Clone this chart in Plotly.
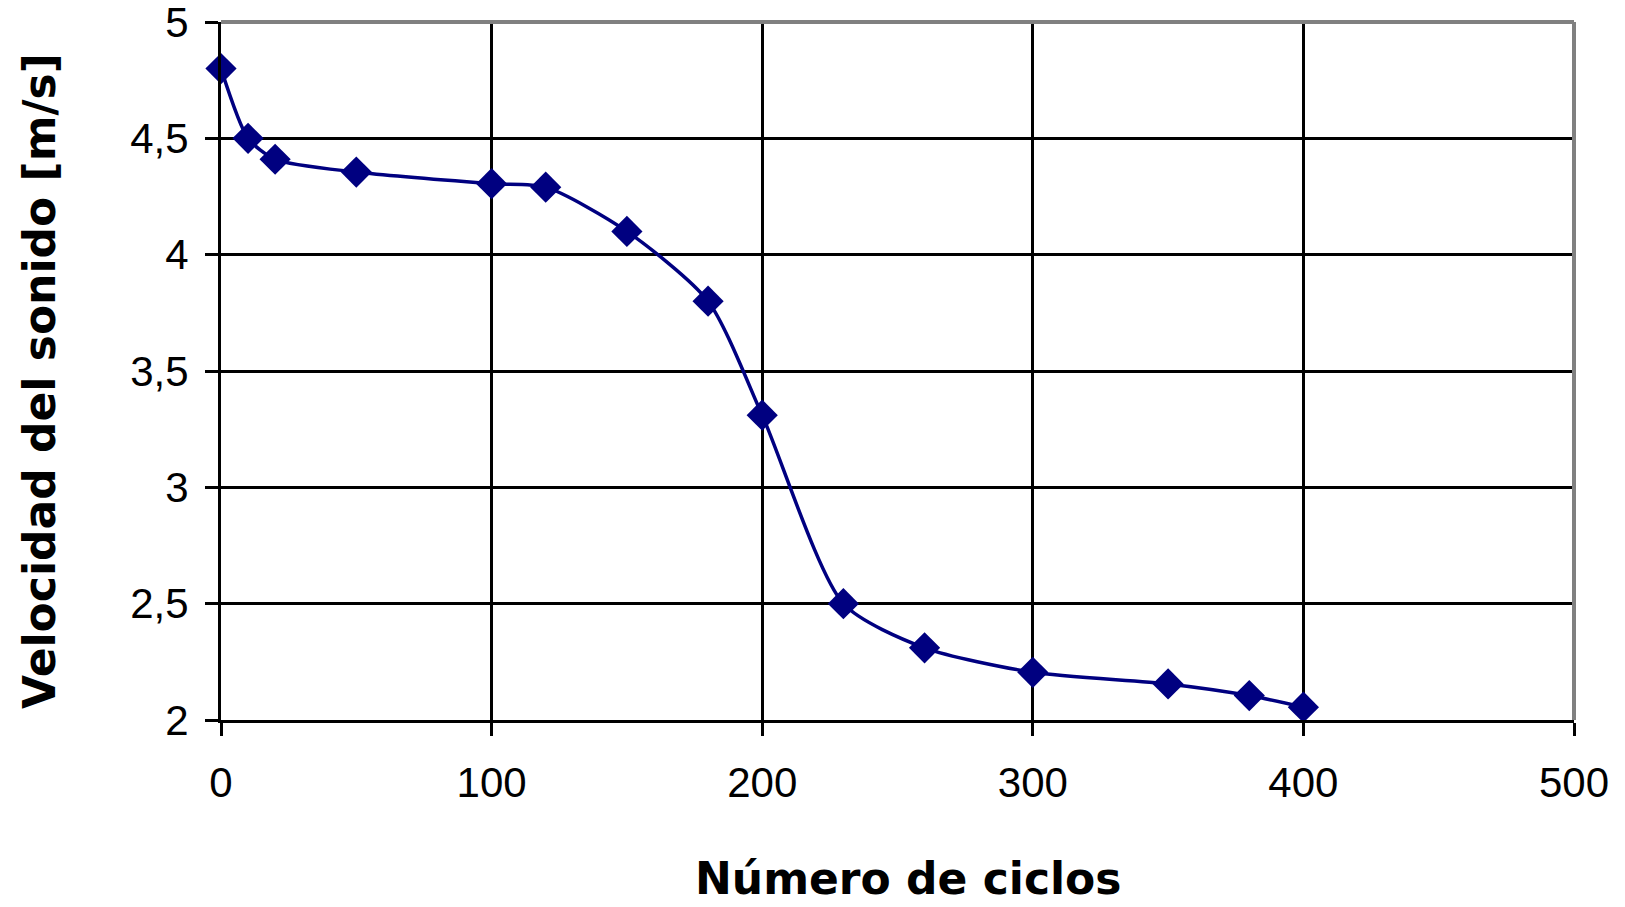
import plotly.graph_objects as go

# Data
ciclos = [0, 10, 20, 50, 100, 120, 150, 180, 200, 230, 260, 300, 350, 380, 400]
velocidad = [4.80, 4.50, 4.41, 4.355, 4.305, 4.29, 4.10, 3.80, 3.31, 2.50, 2.31, 2.205, 2.155, 2.105, 2.055]

x_ticks = [0, 100, 200, 300, 400, 500]
y_ticks = [2, 2.5, 3, 3.5, 4, 4.5, 5]

x_title = "Número de ciclos"
y_title = "Velocidad del sonido [m/s]"

W, H = 1625, 907
OFF = 8  # page body margin
L, T = 221 - OFF, 22 - OFF
pw, ph = 1353, 698
R, B = W - L - pw, H - T - ph

fig = go.Figure()
fig.add_trace(go.Scatter(
    x=ciclos, y=velocidad, mode="lines+markers",
    line=dict(color="#000080", width=3.5, shape="spline", smoothing=0.7),
    marker=dict(symbol="diamond", size=24, color="#000080"),
    cliponaxis=False, showlegend=False,
))

tickfont = dict(family="Liberation Sans, Arial, sans-serif", size=42, color="black")
fig.update_xaxes(
    range=[0, 500], tickvals=x_ticks, ticks="outside", ticklen=13, tickwidth=3,
    tickcolor="black", showgrid=True, gridcolor="black", gridwidth=3,
    showline=True, linecolor="black", linewidth=3, zeroline=False,
    tickfont=tickfont, ticklabelstandoff=11, ticklabeloverflow="allow",
)
fig.update_yaxes(
    range=[2, 5], tickvals=y_ticks, ticks="outside", ticklen=13, tickwidth=3,
    tickcolor="black", showgrid=True, gridcolor="black", gridwidth=3,
    showline=True, linecolor="black", linewidth=3, zeroline=False,
    tickfont=tickfont, ticklabelstandoff=8, ticklabeloverflow="allow",
)

titlefont = dict(family="DejaVu Sans, sans-serif", size=44, color="black", weight="bold")
fig.add_annotation(text="<b>" + x_title + "</b>", xref="paper", yref="paper",
                   x=(908 - 221) / pw, y=(720 - 878) / ph, xanchor="center", yanchor="middle",
                   showarrow=False, font=titlefont)
fig.add_annotation(text="<b>" + y_title + "</b>", xref="paper", yref="paper",
                   x=(39 - 221) / pw, y=(720 - 381) / ph, xanchor="center", yanchor="middle",
                   textangle=-90, showarrow=False, font=titlefont)

# gray plot-area border on top and right
fig.add_shape(type="line", xref="paper", yref="paper", x0=0, x1=1, y0=1, y1=1,
              line=dict(color="#808080", width=4), layer="above")
fig.add_shape(type="line", xref="paper", yref="paper", x0=1, x1=1, y0=0, y1=1,
              line=dict(color="#808080", width=4), layer="above")

fig.update_layout(
    width=W, height=H, margin=dict(l=L, r=R, t=T, b=B, autoexpand=False),
    paper_bgcolor="white", plot_bgcolor="white", separators=",.",
)
fig.write_html("out.html")
